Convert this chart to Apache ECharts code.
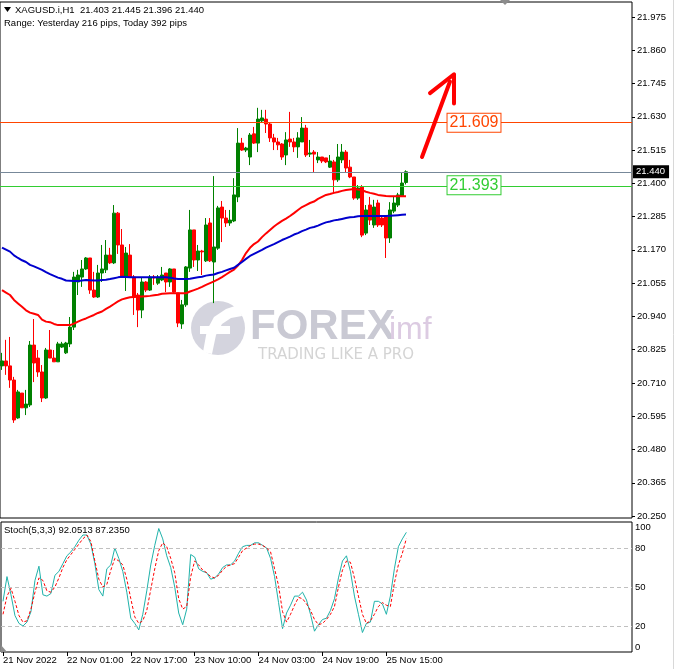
<!DOCTYPE html>
<html><head><meta charset="utf-8">
<script src="https://cdn.jsdelivr.net/npm/echarts@6/dist/echarts.min.js"></script>
<style>html,body{margin:0;padding:0;background:#fff;}#c{width:675px;height:669px;}</style>
</head><body><div id="c"></div>
<script>
// ---- data ----
const timeLabels = ["21 Nov 2022","22 Nov 01:00","22 Nov 17:00","23 Nov 10:00","24 Nov 03:00","24 Nov 19:00","25 Nov 15:00"];
const priceTicks = [20.250,20.365,20.480,20.595,20.710,20.825,20.940,21.055,21.170,21.285,21.400,21.515,21.630,21.745,21.860,21.975];
const stochTicks = [0,20,50,80,100];
const openP = [20.769,20.786,20.769,20.720,20.589,20.675,20.624,20.634,20.841,20.796,
20.748,20.658,20.824,20.796,20.783,20.834,20.814,20.845,20.903,21.059,
21.076,21.104,21.142,21.031,21.007,21.090,21.101,21.152,21.125,21.297,
21.187,21.076,21.152,21.076,21.014,20.962,21.059,21.031,21.076,21.055,
21.066,21.090,21.059,21.104,21.021,20.914,20.980,21.107,21.239,21.135,
21.166,21.132,21.263,21.128,21.176,21.318,21.280,21.263,21.270,21.353,
21.539,21.515,21.491,21.571,21.539,21.616,21.622,21.605,21.557,21.543,
21.536,21.498,21.553,21.543,21.526,21.543,21.591,21.501,21.508,21.481,
21.491,21.488,21.456,21.474,21.412,21.481,21.508,21.456,21.422,21.349,
21.387,21.228,21.325,21.256,21.332,21.280,21.284,21.211,21.304,21.325,
21.356,21.403];
const highP = [20.814,20.859,20.869,20.731,20.686,20.675,20.686,20.855,20.931,20.824,
20.772,20.831,20.893,20.824,20.852,20.852,20.852,20.938,21.094,21.101,
21.135,21.145,21.142,21.094,21.118,21.187,21.204,21.177,21.325,21.301,
21.242,21.180,21.190,21.083,21.021,21.073,21.062,21.083,21.083,21.083,
21.111,21.090,21.107,21.104,21.021,20.997,21.114,21.308,21.239,21.187,
21.170,21.280,21.280,21.425,21.322,21.339,21.308,21.308,21.418,21.591,
21.557,21.526,21.574,21.595,21.661,21.654,21.654,21.609,21.571,21.557,
21.539,21.577,21.647,21.557,21.577,21.629,21.602,21.550,21.515,21.508,
21.491,21.488,21.498,21.481,21.536,21.536,21.515,21.481,21.422,21.394,
21.394,21.325,21.353,21.343,21.343,21.290,21.284,21.335,21.353,21.367,
21.439,21.445];
const lowP = [20.755,20.738,20.693,20.572,20.586,20.624,20.599,20.627,20.713,20.731,
20.644,20.655,20.796,20.783,20.783,20.831,20.810,20.834,20.893,21.014,
21.042,21.101,21.018,21.004,21.004,21.059,21.090,21.121,21.121,21.156,
21.073,21.028,21.073,20.945,20.903,20.934,21.024,21.028,21.049,21.049,
21.062,21.024,21.042,21.021,20.903,20.897,20.973,21.094,21.111,21.097,
21.083,21.128,21.128,20.986,21.170,21.197,21.249,21.253,21.266,21.335,
21.512,21.508,21.463,21.536,21.508,21.612,21.574,21.543,21.515,21.515,
21.481,21.463,21.526,21.508,21.488,21.543,21.491,21.491,21.439,21.470,
21.470,21.470,21.453,21.367,21.405,21.470,21.439,21.418,21.343,21.343,
21.214,21.221,21.256,21.246,21.249,21.249,21.142,21.194,21.297,21.318,
21.353,21.396];
const closeP = [20.786,20.769,20.720,20.582,20.679,20.624,20.637,20.841,20.779,20.748,
20.658,20.824,20.796,20.783,20.845,20.845,20.848,20.903,21.076,21.083,
21.104,21.142,21.031,21.007,21.090,21.104,21.152,21.125,21.297,21.187,
21.076,21.159,21.076,21.007,20.962,21.059,21.031,21.076,21.073,21.076,
21.083,21.059,21.104,21.024,20.917,20.980,21.111,21.239,21.135,21.166,
21.163,21.256,21.132,21.180,21.315,21.280,21.263,21.273,21.360,21.539,
21.515,21.522,21.567,21.539,21.622,21.626,21.605,21.557,21.543,21.533,
21.491,21.550,21.543,21.526,21.557,21.591,21.498,21.505,21.501,21.491,
21.477,21.474,21.477,21.412,21.491,21.508,21.453,21.422,21.349,21.384,
21.221,21.308,21.273,21.318,21.256,21.256,21.211,21.308,21.332,21.360,
21.401,21.440];
const maRed = [21.031,21.022,21.014,20.997,20.985,20.973,20.961,20.953,20.949,20.945,
20.929,20.922,20.920,20.914,20.910,20.910,20.910,20.910,20.915,20.922,
20.928,20.933,20.939,20.945,20.952,20.957,20.966,20.974,20.983,20.992,
20.999,21.003,21.006,21.007,21.008,21.009,21.010,21.011,21.013,21.015,
21.018,21.019,21.020,21.020,21.020,21.020,21.020,21.026,21.031,21.036,
21.042,21.049,21.055,21.061,21.068,21.076,21.085,21.094,21.102,21.116,
21.135,21.159,21.177,21.190,21.199,21.214,21.227,21.239,21.251,21.261,
21.270,21.278,21.287,21.297,21.308,21.318,21.325,21.332,21.337,21.346,
21.353,21.360,21.363,21.367,21.370,21.374,21.377,21.379,21.380,21.379,
21.376,21.371,21.367,21.364,21.360,21.358,21.356,21.355,21.355,21.355,
21.355,21.355];
const maBlue = [21.178,21.171,21.164,21.151,21.142,21.134,21.128,21.118,21.113,21.107,
21.101,21.093,21.086,21.080,21.074,21.070,21.064,21.063,21.062,21.062,
21.064,21.066,21.065,21.064,21.064,21.066,21.067,21.069,21.072,21.075,
21.077,21.076,21.075,21.075,21.075,21.075,21.075,21.075,21.075,21.075,
21.075,21.075,21.074,21.071,21.069,21.069,21.069,21.070,21.073,21.075,
21.077,21.081,21.083,21.085,21.090,21.094,21.099,21.104,21.108,21.118,
21.128,21.139,21.149,21.156,21.163,21.170,21.178,21.184,21.190,21.197,
21.204,21.210,21.216,21.223,21.228,21.235,21.240,21.246,21.249,21.254,
21.260,21.265,21.268,21.272,21.274,21.277,21.280,21.283,21.284,21.286,
21.287,21.287,21.287,21.287,21.287,21.287,21.287,21.288,21.289,21.290,
21.291,21.292];
const stochMain = [39,58,44,28,22,20,23,31,55,66,44,43,45,59,62,68,74,77,81,86,
90,90,83,68,48,43,64,67,80,72,62,46,26,22,17,29,47,67,82,95,
87,74,65,50,30,21,33,75,73,64,62,61,56,57,60,65,67,67,70,76,
81,82,82,84,84,82,80,72,58,38,18,30,36,43,43,46,40,29,16,21,
25,26,32,41,57,70,74,62,43,29,15,22,23,39,39,37,29,43,64,81,
87,92.0513];
const stochSignal = [29,43,49,39,28,23,24,33,46,57,55,47,46,50,57,65,71,75,79,83,
87,90,85,70,56,50,52,63,72,70,67,56,41,27,22,24,32,48,64,78,
84,81,72,61,41,33,35,58,70,67,63,61,58,57,59,63,66,67,68,73,
78,80,82,83,83,82,80,77,64,51,31,23,29,36,42,41,37,32,25,21,
22,25,29,35,50,63,70,69,57,43,29,22,24,29,35,38,36,35,53,67,
76,87.2350];
const levelUp = 21.609, levelDown = 21.393, lastPrice = 21.440;
const arrowShaft = [[104.75,21.491],[111.8,21.752]];
const arrowHead = [[106.7,21.712],[112.5,21.777],[113.4,21.676]];

// ---- layout ----
const FONT = 'Liberation Sans';
const nSlots = 158;
const slots = Array.from({length:nSlots},(_,i)=>String(i));
const every = 16;
const isLbl = i => i % every === 0 && i / every < timeLabels.length;
const candles = openP.map((o,i)=>[o, closeP[i], lowP[i], highP[i]]);

const chart = echarts.init(document.getElementById('c'));
chart.setOption({
  animation:false,
  backgroundColor:'#ffffff',
  textStyle:{fontFamily:FONT},
  grid:[
    {left:0, top:2, width:632, height:516, show:true, borderColor:'#000', borderWidth:1, backgroundColor:'rgba(0,0,0,0)'},
    {left:0, top:522, width:632, height:130, show:true, borderColor:'#000', borderWidth:1, backgroundColor:'rgba(0,0,0,0)'}
  ],
  xAxis:[
    {type:'category', gridIndex:0, data:slots, boundaryGap:true, axisLine:{show:false}, axisTick:{show:false}, axisLabel:{show:false}, splitLine:{show:false}},
    {type:'category', gridIndex:1, data:slots, boundaryGap:true, axisLine:{show:false},
     axisTick:{show:true, alignWithLabel:true, interval:(i)=>isLbl(i), length:4, lineStyle:{color:'#000'}},
     axisLabel:{interval:(i)=>isLbl(i), formatter:(v,i)=>isLbl(i)?timeLabels[i/every]:'', align:'left', margin:3, fontSize:9.5, color:'#000', fontFamily:FONT},
     splitLine:{show:false}}
  ],
  yAxis:[
    {type:'value', gridIndex:0, position:'right', min:20.2432, max:22.0268, scale:true,
     axisLine:{show:false}, splitLine:{show:false},
     axisTick:{show:true, customValues:priceTicks, length:3, lineStyle:{color:'#000'}},
     axisLabel:{customValues:priceTicks, formatter:v=>v.toFixed(3), margin:5, fontSize:9.5, color:'#000', fontFamily:FONT}},
    {type:'value', gridIndex:1, position:'right', min:0, max:100,
     axisLine:{show:false}, splitLine:{show:false}, axisTick:{show:false},
     axisLabel:{customValues:stochTicks, margin:3, fontSize:9.5, color:'#000', fontFamily:FONT,
       verticalAlignMinLabel:'bottom', verticalAlignMaxLabel:'top'}}
  ],
  series:[
    {type:'candlestick', xAxisIndex:0, yAxisIndex:0, data:candles, barWidth:3, z:3,
     itemStyle:{color:'#008000', color0:'#ff0000', borderColor:'#008000', borderColor0:'#ff0000', borderWidth:1},
     markLine:{symbol:['none','none'], silent:true, animation:false,
       data:[
        {yAxis:levelUp, lineStyle:{color:'#ff4500', width:1, type:'solid'}, label:{show:false}},
        {yAxis:levelDown, lineStyle:{color:'#32cd32', width:1, type:'solid'}, label:{show:false}},
        {yAxis:lastPrice, lineStyle:{color:'#778899', width:1, type:'solid'},
         label:{show:true, position:'end', formatter:lastPrice.toFixed(3), color:'#fff', backgroundColor:'#000', padding:[2,4,1,3], fontSize:9.5, distance:1, fontFamily:FONT}}
       ]},
     markPoint:{symbol:'rect', symbolSize:1, silent:true, animation:false, itemStyle:{color:'rgba(0,0,0,0)'},
       data:[
        {coord:[slots[118], levelUp], label:{show:true, position:'inside', formatter:levelUp.toFixed(3), color:'#ff4500', backgroundColor:'#fff', borderColor:'#ff4500', borderWidth:1, padding:[2,2,0,2], fontSize:16, fontFamily:FONT}},
        {coord:[slots[118], levelDown], label:{show:true, position:'inside', formatter:levelDown.toFixed(3), color:'#32cd32', backgroundColor:'#fff', borderColor:'#32cd32', borderWidth:1, padding:[2,2,0,2], fontSize:16, fontFamily:FONT}}
       ]}
    },
    {type:'line', xAxisIndex:0, yAxisIndex:0, data:maRed, showSymbol:false, symbol:'none', z:4, lineStyle:{color:'#ff0000', width:2}},
    {type:'line', xAxisIndex:0, yAxisIndex:0, data:maBlue, showSymbol:false, symbol:'none', z:4, lineStyle:{color:'#0000cd', width:2}},
    {type:'lines', coordinateSystem:'cartesian2d', xAxisIndex:0, yAxisIndex:0, polyline:true, z:6, silent:true,
     lineStyle:{color:'#ff0000', width:4, cap:'round', join:'round', opacity:1},
     data:[{coords:arrowShaft},{coords:arrowHead}]},
    {type:'line', xAxisIndex:1, yAxisIndex:1, data:stochMain, showSymbol:false, symbol:'none', z:4, lineStyle:{color:'#20b2aa', width:1},
     markLine:{symbol:['none','none'], silent:true, animation:false, label:{show:false},
       lineStyle:{color:'#c0c0c0', width:1, type:[4,3]},
       data:[{yAxis:20},{yAxis:50},{yAxis:80}]}},
    {type:'line', xAxisIndex:1, yAxisIndex:1, data:stochSignal, showSymbol:false, symbol:'none', z:5, lineStyle:{color:'#ff0000', width:1, type:[3,2]}}
  ],
  graphic:[
    // watermark
    {type:'circle', shape:{cx:218, cy:328, r:27}, style:{fill:'#d4d4de'}, z:0, silent:true},
    {type:'polygon', shape:{points:[[238,305],[226,309],[214,317],[207,330],[203,352],[212,354],[216,335],[222,324],[231,318],[242,316]]}, style:{fill:'#ffffff'}, z:0, silent:true},
    {type:'rect', shape:{x:200, y:326, width:30, height:8}, style:{fill:'#ffffff'}, z:0, silent:true},
    {type:'text', style:{x:250, y:327, text:'FOREX', fill:'#c9c9d3', font:'bold 42px "Liberation Sans"', textVerticalAlign:'middle'}, z:0, silent:true},
    {type:'text', style:{x:389, y:330, text:'imf', fill:'#dccbe2', font:'32px "Liberation Sans"', textVerticalAlign:'middle'}, z:0, silent:true},
    {type:'text', style:{x:258, y:355, text:'TRADING LIKE A PRO', fill:'#d4d4d4', font:'15px "DejaVu Sans"', textVerticalAlign:'middle'}, z:0, silent:true},
    // header
    {type:'polygon', shape:{points:[[4,7],[11,7],[7.5,12]]}, style:{fill:'#000'}, z:100},
    {type:'text', style:{x:15, y:10, text:'XAGUSD.i,H1  21.403 21.445 21.396 21.440', fill:'#000', font:'9.5px "Liberation Sans"', textVerticalAlign:'middle'}, z:100},
    {type:'text', style:{x:4, y:23, text:'Range: Yesterday 216 pips, Today 392 pips', fill:'#000', font:'9.5px "Liberation Sans"', textVerticalAlign:'middle'}, z:100},
    {type:'text', style:{x:4, y:530, text:'Stoch(5,3,3) 92.0513 87.2350', fill:'#000', font:'9.5px "Liberation Sans"', textVerticalAlign:'middle'}, z:100},
    // shift marker and corner marker
    {type:'polygon', shape:{points:[[500,0],[510,0],[505,5]]}, style:{fill:'#8c8c8c'}, z:100},
    {type:'polygon', shape:{points:[[1,645],[1,652],[7,652]]}, style:{fill:'#8c8c8c'}, z:100},
    {type:'line', shape:{x1:673.5, y1:0, x2:673.5, y2:669}, style:{stroke:'#d8d8d8', lineWidth:1}, z:100}
  ]
});
</script></body></html>
